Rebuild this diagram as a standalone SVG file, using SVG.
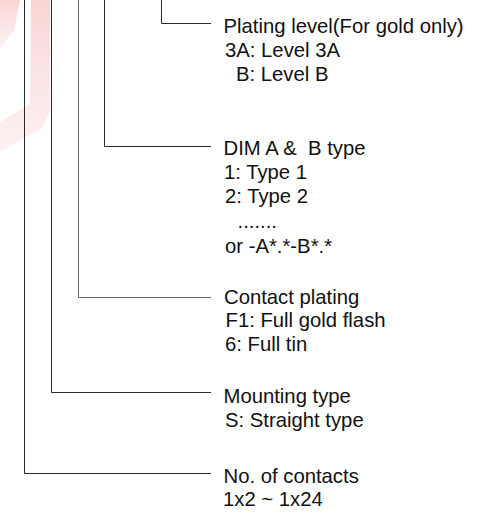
<svg xmlns="http://www.w3.org/2000/svg" width="485" height="517" viewBox="0 0 485 517">
  <style>
    text { font-family: "Liberation Sans", Arial, sans-serif; font-size: 20.3px; fill: #111; white-space: pre; }
    .ln { fill: none; stroke: #2a2a2a; stroke-width: 1; }
    .lg { fill: none; stroke: #6a6a6a; stroke-width: 1; }
  </style>
  <defs>
    <linearGradient id="wm" x1="0" y1="0" x2="0" y2="1">
      <stop offset="0" stop-color="#f4a0a0" stop-opacity="0.45"/>
      <stop offset="1" stop-color="#f8d0d0" stop-opacity="0.3"/>
    </linearGradient>
  </defs>
  <g id="watermark" fill="url(#wm)">
    <polygon points="0,0 20,0 14,30 0,48"/>
    <polygon points="31,0 50,0 50,112 42,128 0,152 0,122 30,104"/>
  </g>
  <g id="connectors">
    <polyline class="ln" points="161.5,0 161.5,23.5 211,23.5"/>
    <polyline class="ln" points="104.5,0 104.5,146.5 211,146.5"/>
    <polyline class="lg" points="78.5,0 78.5,297.5 211,297.5"/>
    <polyline class="ln" points="51.5,0 51.5,392.5 211,392.5"/>
    <polyline class="ln" points="24.5,0 24.5,473.5 211,473.5"/>
  </g>
  <g id="plating-level">
    <text x="223.5" y="32.5">Plating level(For gold only)</text>
    <text x="225" y="56.5">3A: Level 3A</text>
    <text x="236" y="80.5">B: Level B</text>
  </g>
  <g id="dim-type">
    <text x="223.5" y="154.5" xml:space="preserve">DIM A &amp;  B type</text>
    <text x="224" y="178.5">1: Type 1</text>
    <text x="225" y="202.5">2: Type 2</text>
    <text x="237.5" y="227.5">.......</text>
    <text x="225" y="252.5">or -A*.*-B*.*</text>
  </g>
  <g id="contact-plating">
    <text x="224" y="303.5">Contact plating</text>
    <text x="225.5" y="327">F1: Full gold flash</text>
    <text x="225" y="351">6: Full tin</text>
  </g>
  <g id="mounting-type">
    <text x="223.5" y="402.5">Mounting type</text>
    <text x="225" y="427">S: Straight type</text>
  </g>
  <g id="no-of-contacts">
    <text x="223.5" y="483">No. of contacts</text>
    <text x="223" y="506">1x2 ~ 1x24</text>
  </g>
</svg>
